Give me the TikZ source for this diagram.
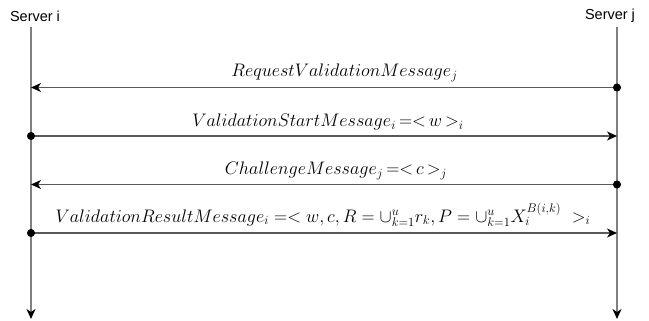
\documentclass[tikz,border=0pt]{standalone}
\usepackage{fontspec}
\newfontfamily\labelfont{Liberation Sans}
\usetikzlibrary{arrows.meta}
\tikzset{
  tip/.tip={Stealth[length=10pt,width=9pt,inset=3pt,color=black]},
  dot/.tip={Circle[length=8pt,color=black]},
  lifeline/.style={draw=black!50, line width=1.4pt, -tip, shorten >=-1pt},
  msg/.style={draw=black!65, line width=1.3pt, dot-tip, shorten <=-4pt},
  msglabel/.style={font=\LARGE, inner sep=0pt},
  server/.style={font=\labelfont\fontsize{14.5}{16}\selectfont, inner sep=0pt}
}
\newcommand{\msgtext}[1]{\scalebox{1.05}{#1}}
% tuple brackets with thin spacing
\newcommand{\opentup}{\,\mathord{=}\mathord{<}\,}
\newcommand{\closetup}{\,\mathord{>}}
\begin{document}
\begin{tikzpicture}[x=1pt,y=-1pt]
\useasboundingbox (0,0) rectangle (649,321);
% server headers
\node[server] (si) at (35,16) {Server i};
\node[server] (sj) at (610,16) {Server j};
% lifelines
\coordinate (iTop) at (31,27);
\coordinate (iBot) at (31,318);
\coordinate (jTop) at (617,27);
\coordinate (jBot) at (617,318);
\draw[lifeline] (iTop) -- (iBot);
\draw[lifeline] (jTop) -- (jBot);
% message end points on the lifelines
\foreach \n/\y in {1/87.5,2/136,3/184.5,4/233}{
  \coordinate (i\n) at (31,\y);
  \coordinate (j\n) at (617,\y);
}
% messages
\draw[msg] (j1) -- (i1);
\draw[msg] (i2) -- (j2);
\draw[msg] (j3) -- (i3);
\draw[msg] (i4) -- (j4);
% message labels
\node[msglabel] (m1) at (344.5,73) {\msgtext{$RequestValidationMessage_{j}$}};
\node[msglabel] (m2) at (328,122) {\msgtext{$ValidationStartMessage_{i}\opentup w\closetup_{i}$}};
\node[msglabel] (m3) at (336,171) {\msgtext{$ChallengeMessage_{j}\opentup c\closetup_{j}$}};
\node[msglabel] (m4) at (323,215) {\msgtext{$ValidationResultMessage_{i} =< w, c, R = \cup_{k=1}^{u} r_{k}, P = \cup_{k=1}^{u} X_{i}^{B(i,k)}\ >_{i}$}};
\end{tikzpicture}
\end{document}
